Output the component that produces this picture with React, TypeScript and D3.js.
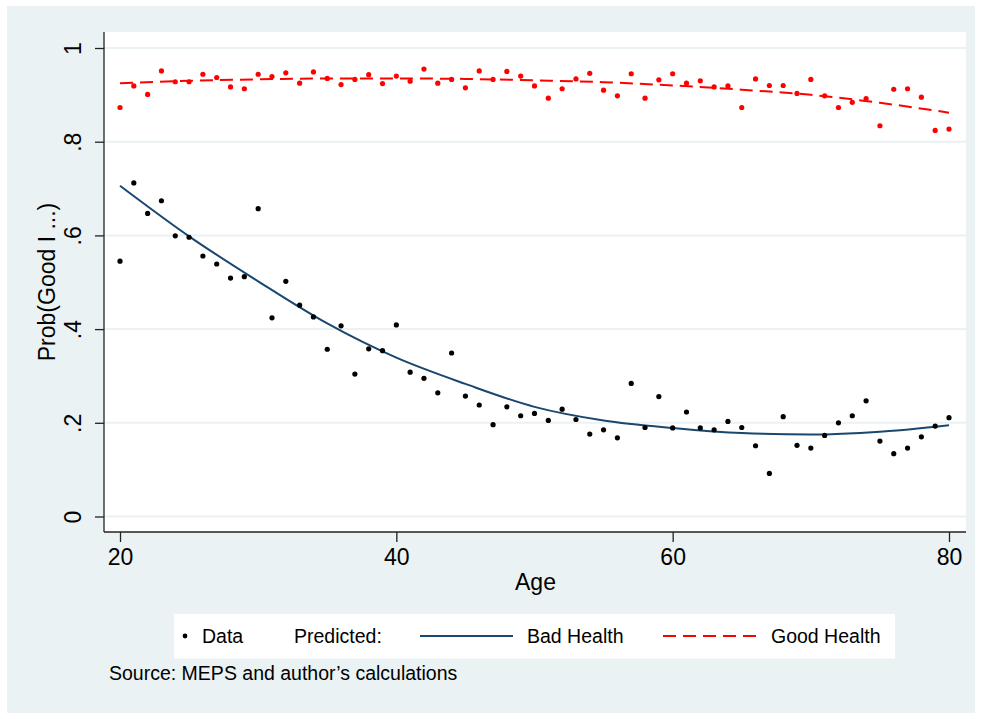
import React from "react";
import * as d3 from "d3";
import { useEffect, useRef } from "react";

// observed shares by single year of age, 20..80
const ages = d3.range(20, 81);
const goodData = [
  0.873, 0.919, 0.901, 0.951, 0.928, 0.928, 0.944, 0.937, 0.917, 0.913,
  0.944, 0.939, 0.947, 0.925, 0.949, 0.935, 0.922, 0.933, 0.943, 0.924,
  0.94, 0.929, 0.955, 0.925, 0.933, 0.915, 0.951, 0.933, 0.95, 0.94,
  0.919, 0.893, 0.913, 0.934, 0.946, 0.91, 0.898, 0.945, 0.893, 0.932,
  0.945, 0.925, 0.93, 0.917, 0.919, 0.873, 0.934, 0.92, 0.92, 0.903,
  0.933, 0.898, 0.873, 0.884, 0.892, 0.834, 0.912, 0.913, 0.895, 0.824,
  0.827,
];
const badData = [
  0.545, 0.712, 0.647, 0.674, 0.599, 0.596, 0.556, 0.539, 0.509, 0.512,
  0.657, 0.424, 0.502, 0.451, 0.426, 0.357, 0.407, 0.304, 0.358, 0.354,
  0.409, 0.308, 0.295, 0.264, 0.349, 0.257, 0.238, 0.196, 0.234, 0.215,
  0.22, 0.205, 0.229, 0.207, 0.176, 0.185, 0.168, 0.284, 0.19, 0.256,
  0.189, 0.223, 0.189, 0.185, 0.203, 0.19, 0.151, 0.092, 0.213, 0.152,
  0.146, 0.173, 0.2, 0.215, 0.247, 0.161, 0.134, 0.146, 0.17, 0.193,
  0.211,
];

// fitted curves, read every 5 years
const predAges = [20, 25, 30, 35, 40, 45, 50, 55, 60, 65, 70, 75, 80];
const predGood = [0.925, 0.93, 0.933, 0.935, 0.935, 0.934, 0.931, 0.927, 0.92, 0.911, 0.9, 0.883, 0.862];
const predBad = [0.706, 0.598, 0.502, 0.412, 0.339, 0.283, 0.234, 0.205, 0.189, 0.178, 0.175, 0.181, 0.195];

const xTicks = [20, 40, 60, 80];
const yTicks = [0, 0.2, 0.4, 0.6, 0.8, 1];
const yTickLabels = ["0", ".2", ".4", ".6", ".8", "1"];

const W = 982;
const H = 719;
const plot = { left: 104, right: 966, top: 32, bottom: 532 };
const bg = "#eaf2f3";
const navy = "#1a476f";
const red = "#ff0000";
const font = "'Liberation Sans', Arial, Helvetica, sans-serif";

function ProbChart() {
  const svgRef = useRef<SVGSVGElement>(null);

  useEffect(() => {
    const svg = d3.select(svgRef.current);
    svg.selectAll("*").remove();

    const x = d3.scaleLinear().domain([20, 80]).range([120, 949]);
    const y = d3.scaleLinear().domain([0, 1]).range([516.5, 48]);

    // backgrounds
    svg.append("rect").attr("x", 7).attr("y", 6).attr("width", 968).attr("height", 707).attr("fill", bg);
    svg
      .append("rect")
      .attr("x", plot.left)
      .attr("y", plot.top)
      .attr("width", plot.right - plot.left)
      .attr("height", plot.bottom - plot.top)
      .attr("fill", "#fff");

    // grid
    svg
      .selectAll(".grid")
      .data(yTicks)
      .enter()
      .append("line")
      .attr("x1", plot.left)
      .attr("x2", plot.right)
      .attr("y1", (d) => y(d))
      .attr("y2", (d) => y(d))
      .attr("stroke", bg)
      .attr("stroke-width", 2);

    // y axis
    const yAxis = d3
      .axisLeft(y)
      .tickValues(yTicks)
      .tickSize(9)
      .tickSizeOuter(0)
      .tickFormat((_, i) => yTickLabels[i]);
    const gy = svg.append("g").attr("transform", `translate(${plot.left},0)`).call(yAxis);
    gy.select(".domain").attr("d", `M0,${plot.top}V${plot.bottom}`).attr("stroke", "#222").attr("stroke-width", 1.3);
    gy.selectAll(".tick line").attr("stroke", "#222").attr("stroke-width", 1.3);
    gy.selectAll(".tick text")
      .attr("x", null)
      .attr("dy", null)
      .attr("transform", "translate(-23,0) rotate(-90)")
      .attr("text-anchor", "middle")
      .attr("font-family", font)
      .attr("font-size", 23)
      .attr("fill", "#000");

    // x axis
    const xAxis = d3.axisBottom(x).tickValues(xTicks).tickSize(10).tickSizeOuter(0);
    const gx = svg.append("g").attr("transform", `translate(0,${plot.bottom})`).call(xAxis);
    gx.select(".domain").attr("d", `M${plot.left},0H${plot.right}`).attr("stroke", "#222").attr("stroke-width", 1.3);
    gx.selectAll(".tick line").attr("stroke", "#222").attr("stroke-width", 1.3);
    gx.selectAll(".tick text")
      .attr("y", 33)
      .attr("dy", null)
      .attr("font-family", font)
      .attr("font-size", 23)
      .attr("fill", "#000");

    // axis titles
    svg
      .append("text")
      .attr("x", (plot.left + plot.right) / 2 + 0.5)
      .attr("y", 590)
      .attr("text-anchor", "middle")
      .attr("font-family", font)
      .attr("font-size", 23)
      .text("Age");
    svg
      .append("text")
      .attr("transform", `translate(55,${(plot.top + plot.bottom) / 2}) rotate(-90)`)
      .attr("text-anchor", "middle")
      .attr("font-family", font)
      .attr("font-size", 23)
      .text("Prob(Good I ...)");

    // fitted lines
    const line = d3
      .line<number>()
      .x((_, i) => x(predAges[i]))
      .y((d) => y(d))
      .curve(d3.curveMonotoneX);
    svg
      .append("path")
      .attr("d", line(predBad))
      .attr("fill", "none")
      .attr("stroke", navy)
      .attr("stroke-width", 2);
    svg
      .append("path")
      .attr("d", line(predGood))
      .attr("fill", "none")
      .attr("stroke", red)
      .attr("stroke-width", 2)
      .attr("stroke-dasharray", "13 7");

    // data points
    svg
      .selectAll(".good")
      .data(goodData)
      .enter()
      .append("circle")
      .attr("cx", (_, i) => x(ages[i]))
      .attr("cy", (d) => y(d))
      .attr("r", 2.6)
      .attr("fill", red);
    svg
      .selectAll(".bad")
      .data(badData)
      .enter()
      .append("circle")
      .attr("cx", (_, i) => x(ages[i]))
      .attr("cy", (d) => y(d))
      .attr("r", 2.6)
      .attr("fill", "#000");

    // legend
    const lg = svg.append("g").attr("font-family", font).attr("font-size", 19.5);
    lg.append("rect").attr("x", 174).attr("y", 614).attr("width", 721).attr("height", 44.5).attr("fill", "#fff");
    lg.append("circle").attr("cx", 185).attr("cy", 636).attr("r", 2.4).attr("fill", "#000");
    lg.append("text").attr("x", 202).attr("y", 643).text("Data");
    lg.append("text").attr("x", 294).attr("y", 643).text("Predicted:");
    lg.append("line").attr("x1", 420).attr("x2", 513).attr("y1", 636).attr("y2", 636).attr("stroke", navy).attr("stroke-width", 2);
    lg.append("text").attr("x", 527).attr("y", 643).text("Bad Health");
    lg.append("line")
      .attr("x1", 663)
      .attr("x2", 757)
      .attr("y1", 636)
      .attr("y2", 636)
      .attr("stroke", red)
      .attr("stroke-width", 2)
      .attr("stroke-dasharray", "13 7");
    lg.append("text").attr("x", 771).attr("y", 643).text("Good Health");

    // note
    svg
      .append("text")
      .attr("x", 109)
      .attr("y", 680)
      .attr("font-family", font)
      .attr("font-size", 19.5)
      .text("Source: MEPS and author\u2019s calculations");
  }, []);

  return <svg ref={svgRef} width={W} height={H} style={{ display: "block" }}></svg>;
}

export default function App() {
  return (
    <div style={{ position: "absolute", left: 0, top: 0 }}>
      <ProbChart />
    </div>
  );
}
